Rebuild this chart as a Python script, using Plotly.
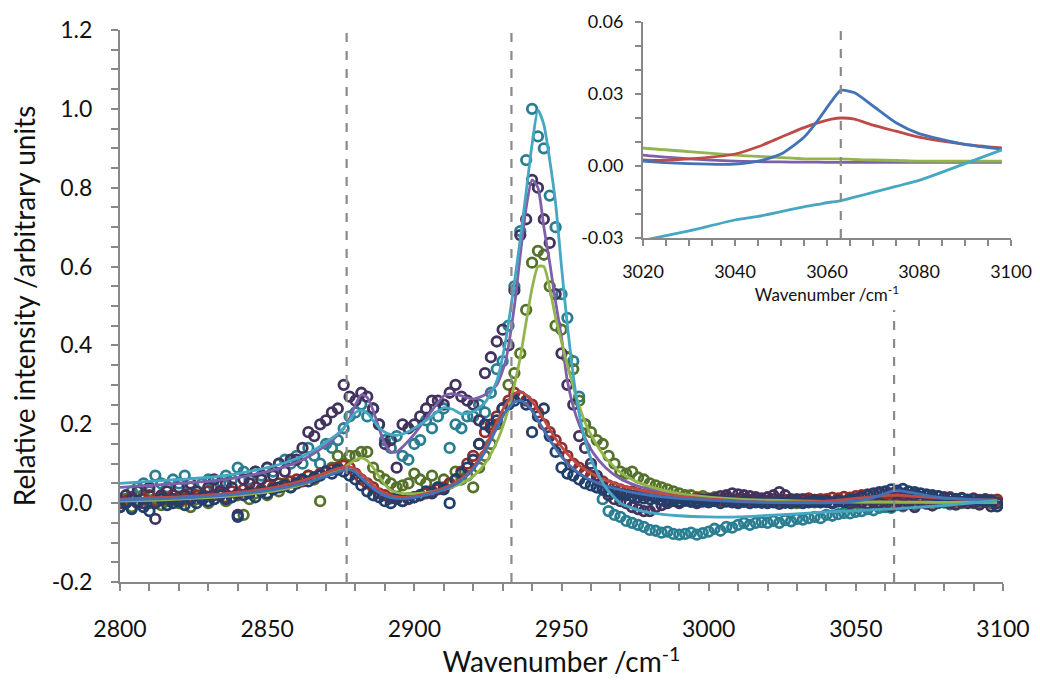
import plotly.graph_objects as go

# ---------------- data ----------------
WAVENUMBER = [
    2800, 2802, 2804, 2806, 2808, 2810, 2812, 2814, 2816, 2818,
    2820, 2822, 2824, 2826, 2828, 2830, 2832, 2834, 2836, 2838,
    2840, 2842, 2844, 2846, 2848, 2850, 2852, 2854, 2856, 2858,
    2860, 2862, 2864, 2866, 2868, 2870, 2872, 2874, 2876, 2878,
    2880, 2882, 2884, 2886, 2888, 2890, 2892, 2894, 2896, 2898,
    2900, 2902, 2904, 2906, 2908, 2910, 2912, 2914, 2916, 2918,
    2920, 2922, 2924, 2926, 2928, 2930, 2932, 2934, 2936, 2938,
    2940, 2942, 2944, 2946, 2948, 2950, 2952, 2954, 2956, 2958,
    2960, 2962, 2964, 2966, 2968, 2970, 2972, 2974, 2976, 2978,
    2980, 2982, 2984, 2986, 2988, 2990, 2992, 2994, 2996, 2998,
    3000, 3002, 3004, 3006, 3008, 3010, 3012, 3014, 3016, 3018,
    3020, 3022, 3024, 3026, 3028, 3030, 3032, 3034, 3036, 3038,
    3040, 3042, 3044, 3046, 3048, 3050, 3052, 3054, 3056, 3058,
    3060, 3062, 3064, 3066, 3068, 3070, 3072, 3074, 3076, 3078,
    3080, 3082, 3084, 3086, 3088, 3090, 3092, 3094, 3096, 3098,
]

teal_points = [
    0.00, 0.01, 0.03, 0.04, 0.05, 0.03, 0.07, 0.05, 0.04, 0.06,
    0.05, 0.07, 0.04, 0.03, 0.05, 0.06, 0.04, 0.05, 0.07, 0.06,
    0.09, 0.08, 0.06, 0.08, 0.07, 0.09, 0.08, 0.10, 0.11, 0.10,
    0.12, 0.10, 0.14, 0.12, 0.10, 0.15, 0.14, 0.16, 0.19, 0.22,
    0.23, 0.25, 0.22, 0.24, 0.20, 0.16, 0.14, 0.17, 0.12, 0.11,
    0.15, 0.16, 0.21, 0.19, 0.22, 0.24, 0.14, 0.20, 0.19, 0.22,
    0.22, 0.25, 0.23, 0.28, 0.34, 0.36, 0.45, 0.55, 0.69, 0.87,
    1.00, 0.93, 0.90, 0.78, 0.70, 0.53, 0.47, 0.36, 0.27, 0.20,
    0.09, 0.04, 0.01, -0.02, -0.03, -0.035, -0.045, -0.05, -0.055, -0.06,
    -0.068, -0.07, -0.075, -0.072, -0.078, -0.08, -0.078, -0.075, -0.08, -0.076,
    -0.072, -0.065, -0.07, -0.06, -0.062, -0.055, -0.05, -0.055, -0.05, -0.048,
    -0.05, -0.045, -0.05, -0.043, -0.046, -0.04, -0.042, -0.038, -0.035, -0.038,
    -0.03, -0.032, -0.028, -0.025, -0.026, -0.022, -0.02, -0.015, -0.018, -0.012,
    -0.01, -0.012, -0.005, -0.008, 0.0, -0.004, 0.002, -0.002, 0.004, 0.0,
    0.002, -0.003, 0.004, 0.0, 0.005, 0.002, 0.006, 0.004, 0.008, 0.005,
]

purple_points = [
    -0.01, 0.02, 0.01, 0.03, 0.00, 0.04, -0.04, 0.02, 0.03, 0.01,
    0.04, 0.02, 0.05, 0.03, 0.01, 0.04, 0.06, 0.03, 0.05, 0.04,
    -0.03, 0.06, 0.05, 0.08, 0.06, 0.09, 0.07, 0.10, 0.08, 0.11,
    0.11, 0.14, 0.18, 0.17, 0.20, 0.21, 0.23, 0.24, 0.30, 0.27,
    0.26, 0.28, 0.27, 0.24, 0.20, 0.15, 0.16, 0.09, 0.20, 0.19,
    0.20, 0.22, 0.24, 0.26, 0.26, 0.25, 0.28, 0.30, 0.27, 0.26,
    0.25, 0.21, 0.33, 0.37, 0.41, 0.44, 0.40, 0.54, 0.68, 0.72,
    0.82, 0.80, 0.72, 0.66, 0.53, 0.38, 0.30, 0.25, 0.17, 0.14,
    0.10, 0.07, 0.04, 0.02, 0.01, 0.005, 0.00, -0.01, -0.015, -0.02,
    -0.02, -0.01, -0.005, 0.00, 0.005, 0.00, 0.01, 0.005, 0.00, 0.008,
    0.01, 0.012, 0.018, 0.02, 0.025, 0.022, 0.02, 0.018, 0.015, 0.012,
    0.015, 0.02, 0.028, 0.02, 0.01, 0.008, 0.01, 0.005, 0.008, 0.005,
    0.005, 0.002, 0.006, 0.003, 0.00, 0.004, 0.002, -0.002, 0.003, 0.00,
    -0.005, -0.008, 0.002, -0.005, 0.00, -0.01, 0.005, 0.00, -0.006, 0.002,
    0.004, 0.00, -0.004, 0.003, 0.00, 0.002, -0.004, 0.003, -0.008, 0.00,
]

olive_points = [
    0.00, 0.01, -0.01, 0.00, 0.02, 0.00, 0.01, -0.005, 0.005, 0.01,
    0.00, 0.015, -0.01, 0.01, 0.02, 0.00, 0.01, 0.02, 0.005, 0.015,
    0.02, -0.03, 0.01, 0.025, 0.03, 0.02, 0.04, 0.03, 0.05, 0.04,
    0.05, 0.06, 0.07, 0.06, 0.005, 0.08, 0.09, 0.12, 0.10, 0.12,
    0.12, 0.13, 0.13, 0.09, 0.07, 0.06, 0.05, 0.04, 0.045, 0.05,
    0.075, 0.06, 0.05, 0.07, 0.04, 0.06, 0.05, 0.08, 0.06, 0.07,
    0.04, 0.09, 0.12, 0.15, 0.20, 0.24, 0.30, 0.33, 0.38, 0.49,
    0.61, 0.64, 0.63, 0.55, 0.45, 0.44, 0.37, 0.34, 0.26, 0.20,
    0.18, 0.16, 0.15, 0.12, 0.10, 0.08, 0.075, 0.08, 0.065, 0.06,
    0.05, 0.045, 0.04, 0.035, 0.03, 0.025, 0.02, 0.02, 0.015, 0.018,
    0.012, 0.015, 0.01, 0.012, 0.008, 0.01, 0.006, 0.008, 0.005, 0.007,
    0.005, 0.003, 0.006, 0.002, 0.004, 0.00, 0.003, 0.005, 0.002, 0.004,
    0.003, 0.00, 0.004, 0.002, 0.005, 0.001, 0.003, 0.00, 0.004, 0.002,
    0.003, 0.00, 0.004, 0.001, 0.003, 0.00, 0.002, 0.004, 0.001, 0.003,
    0.002, 0.00, 0.003, 0.001, 0.004, 0.00, 0.002, 0.003, 0.00, 0.002,
]

red_points = [
    0.00, 0.005, 0.015, 0.00, 0.01, 0.02, 0.005, 0.015, 0.01, 0.02,
    0.015, 0.01, 0.025, 0.02, 0.01, 0.03, 0.02, 0.025, 0.015, 0.03,
    0.025, 0.035, 0.03, 0.04, 0.035, 0.045, 0.04, 0.05, 0.045, 0.055,
    0.06, 0.055, 0.07, 0.065, 0.075, 0.08, 0.085, 0.09, 0.095, 0.09,
    0.075, 0.06, 0.05, 0.04, 0.025, 0.02, 0.012, 0.015, 0.005, 0.01,
    0.015, 0.02, 0.025, 0.03, 0.035, 0.04, 0.05, 0.06, 0.08, 0.10,
    0.12, 0.15, 0.18, 0.20, 0.22, 0.24, 0.26, 0.28, 0.27, 0.26,
    0.25, 0.23, 0.20, 0.18, 0.16, 0.14, 0.12, 0.10, 0.09, 0.08,
    0.07, 0.06, 0.055, 0.045, 0.04, 0.035, 0.03, 0.03, 0.025, 0.02,
    0.02, 0.015, 0.02, 0.01, 0.015, 0.012, 0.01, 0.008, 0.012, 0.01,
    0.008, 0.01, 0.006, 0.012, 0.008, 0.005, 0.01, 0.006, 0.008, 0.005,
    0.006, 0.01, 0.004, 0.008, 0.005, 0.01, 0.007, 0.012, 0.008, 0.01,
    0.01, 0.014, 0.012, 0.016, 0.014, 0.018, 0.02, 0.022, 0.02, 0.025,
    0.022, 0.025, 0.02, 0.024, 0.018, 0.022, 0.016, 0.02, 0.015, 0.018,
    0.012, 0.015, 0.01, 0.013, 0.009, 0.012, 0.008, 0.01, 0.007, 0.009,
]

navy_points = [
    -0.01, 0.00, -0.015, 0.005, -0.01, -0.02, 0.00, 0.01, -0.005, 0.00,
    0.005, -0.005, 0.01, 0.00, 0.015, 0.005, 0.01, 0.02, 0.01, 0.015,
    -0.035, 0.02, 0.025, 0.015, 0.03, 0.025, 0.035, 0.04, 0.045, 0.04,
    0.05, 0.06, 0.055, 0.065, 0.07, 0.08, 0.075, 0.085, 0.08, 0.07,
    0.06, 0.045, 0.03, 0.02, 0.015, 0.005, 0.00, 0.01, 0.005, 0.012,
    0.015, 0.02, 0.03, 0.025, 0.04, 0.035, 0.00, 0.06, 0.075, 0.09,
    0.11, 0.15, 0.20, 0.19, 0.21, 0.24, 0.25, 0.26, 0.27, 0.25,
    0.18, 0.22, 0.24, 0.17, 0.13, 0.09, 0.075, 0.07, 0.06, 0.05,
    0.045, 0.04, 0.035, 0.03, 0.028, 0.022, 0.02, 0.018, 0.015, 0.012,
    0.01, 0.012, 0.008, 0.005, 0.008, 0.004, 0.006, 0.003, 0.005, 0.004,
    0.002, 0.005, 0.00, 0.004, 0.002, 0.00, 0.003, 0.00, 0.002, 0.001,
    0.00, 0.002, -0.002, 0.001, 0.00, 0.003, 0.00, 0.002, 0.004, 0.002,
    0.003, 0.00, 0.005, 0.004, 0.008, 0.01, 0.015, 0.02, 0.025, 0.028,
    0.03, 0.035, 0.032, 0.036, 0.03, 0.028, 0.025, 0.022, 0.02, 0.018,
    0.015, 0.012, 0.01, 0.012, 0.008, 0.01, 0.007, 0.009, 0.006, -0.008,
]

FIT_WAVENUMBER = [
    2800, 2810, 2820, 2830, 2840, 2850, 2855, 2860, 2865, 2870,
    2873, 2876, 2878, 2880, 2882, 2884, 2886, 2888, 2890, 2892,
    2894, 2897, 2900, 2905, 2910, 2913, 2916, 2920, 2924, 2928,
    2931, 2934, 2936, 2938, 2940, 2942, 2944, 2946, 2948, 2950,
    2952, 2955, 2958, 2961, 2965, 2970, 2975, 2980, 2990, 3000,
    3010, 3020, 3030, 3040, 3045, 3050, 3055, 3058, 3061, 3063,
    3066, 3070, 3075, 3080, 3090, 3098,
]

red_fit = [
    0.010, 0.013, 0.016, 0.020, 0.027, 0.037, 0.044, 0.053, 0.064, 0.077,
    0.085, 0.091, 0.092, 0.086, 0.074, 0.060, 0.046, 0.034, 0.025, 0.019,
    0.016, 0.015, 0.018, 0.026, 0.038, 0.048, 0.062, 0.090, 0.140, 0.205,
    0.250, 0.278, 0.282, 0.274, 0.258, 0.236, 0.212, 0.188, 0.164, 0.143,
    0.125, 0.102, 0.085, 0.072, 0.058, 0.045, 0.036, 0.028, 0.018, 0.011,
    0.006, 0.0025, 0.003, 0.005, 0.008, 0.012, 0.016, 0.018, 0.0195, 0.020,
    0.0195, 0.017, 0.0145, 0.012, 0.009, 0.0075,
]

blue_fit = [
    0.008, 0.010, 0.013, 0.017, 0.023, 0.032, 0.038, 0.046, 0.056, 0.068,
    0.076, 0.083, 0.085, 0.078, 0.064, 0.050, 0.037, 0.027, 0.019, 0.014,
    0.012, 0.012, 0.014, 0.022, 0.034, 0.044, 0.058, 0.085, 0.130, 0.190,
    0.232, 0.256, 0.260, 0.252, 0.234, 0.210, 0.185, 0.160, 0.138, 0.118,
    0.101, 0.081, 0.066, 0.055, 0.044, 0.034, 0.026, 0.020, 0.012, 0.008,
    0.004, 0.002, 0.001, 0.0008, 0.002, 0.005, 0.012, 0.019, 0.027, 0.0315,
    0.0305, 0.025, 0.018, 0.0135, 0.009, 0.007,
]

green_fit = [
    0.005, 0.007, 0.010, 0.014, 0.020, 0.028, 0.034, 0.043, 0.055, 0.070,
    0.080, 0.090, 0.100, 0.110, 0.115, 0.108, 0.090, 0.068, 0.047, 0.033,
    0.027, 0.024, 0.024, 0.028, 0.035, 0.041, 0.050, 0.068, 0.100, 0.155,
    0.215, 0.300, 0.370, 0.460, 0.545, 0.600, 0.600, 0.545, 0.470, 0.410,
    0.350, 0.270, 0.205, 0.160, 0.115, 0.078, 0.056, 0.042, 0.024, 0.015,
    0.010, 0.0075, 0.006, 0.0045, 0.004, 0.0035, 0.003, 0.003, 0.003, 0.003,
    0.0027, 0.0025, 0.0023, 0.002, 0.002, 0.002,
]

purple_fit = [
    0.040, 0.045, 0.050, 0.055, 0.065, 0.080, 0.090, 0.103, 0.122, 0.147,
    0.165, 0.190, 0.215, 0.250, 0.275, 0.268, 0.235, 0.190, 0.150, 0.130,
    0.130, 0.150, 0.175, 0.225, 0.272, 0.278, 0.272, 0.264, 0.275, 0.300,
    0.360, 0.500, 0.630, 0.750, 0.820, 0.800, 0.700, 0.610, 0.510, 0.420,
    0.310, 0.220, 0.165, 0.125, 0.090, 0.062, 0.046, 0.035, 0.022, 0.014,
    0.008, 0.0045, 0.003, 0.002, 0.0018, 0.0017, 0.0016, 0.0016, 0.0015, 0.0015,
    0.0015, 0.0015, 0.0015, 0.0015, 0.0015, 0.0015,
]

aqua_fit = [
    0.050, 0.055, 0.060, 0.065, 0.075, 0.090, 0.100, 0.113, 0.130, 0.155,
    0.170, 0.190, 0.210, 0.230, 0.236, 0.228, 0.210, 0.192, 0.180, 0.174,
    0.172, 0.178, 0.190, 0.215, 0.242, 0.238, 0.226, 0.232, 0.255, 0.310,
    0.410, 0.560, 0.670, 0.790, 0.910, 0.997, 0.960, 0.870, 0.760, 0.600,
    0.450, 0.270, 0.160, 0.095, 0.040, 0.000, -0.015, -0.024, -0.032, -0.035,
    -0.035, -0.031, -0.027, -0.0225, -0.021, -0.019, -0.017, -0.016, -0.015, -0.0145,
    -0.013, -0.011, -0.0085, -0.006, 0.001, 0.0067,
]

MARKER_LINES = [2877, 2933, 3063]

MAIN_X_TICKS = [2800, 2850, 2900, 2950, 3000, 3050, 3100]
MAIN_X_LABELS = ["2800", "2850", "2900", "2950", "3000", "3050", "3100"]
MAIN_Y_TICKS = [-0.2, 0.0, 0.2, 0.4, 0.6, 0.8, 1.0, 1.2]
MAIN_Y_LABELS = ["-0.2", "0.0", "0.2", "0.4", "0.6", "0.8", "1.0", "1.2"]
INSET_X_TICKS = [3020, 3040, 3060, 3080, 3100]
INSET_X_LABELS = ["3020", "3040", "3060", "3080", "3100"]
INSET_Y_TICKS = [-0.03, 0.0, 0.03, 0.06]
INSET_Y_LABELS = ["-0.03", "0.00", "0.03", "0.06"]

# ---------------- figure ----------------
FONT = "Lato, 'Open Sans', sans-serif"
AXIS_GREY = "#888888"

point_series = [
    (teal_points, "#2A7E92"),
    (olive_points, "#55722B"),
    (red_points, "#8E2F2C"),
    (purple_points, "#42325E"),
    (navy_points, "#213F6C"),
]
fit_series = [
    (purple_fit, "#7D60A8"),
    (green_fit, "#93B54E"),
    (red_fit, "#BE4B48"),
    (blue_fit, "#4372B6"),
    (aqua_fit, "#46A7C2"),
]

fig = go.Figure()
for vals, col in point_series:
    fig.add_trace(go.Scatter(
        x=WAVENUMBER, y=vals, mode="markers",
        marker=dict(symbol="circle-open", size=9.5, color=col, line=dict(width=2.8, color=col)),
        xaxis="x", yaxis="y", showlegend=False, cliponaxis=True,
    ))
for vals, col in fit_series:
    fig.add_trace(go.Scatter(
        x=FIT_WAVENUMBER, y=vals, mode="lines",
        line=dict(color=col, width=2.8, shape="spline", smoothing=0.6),
        xaxis="x", yaxis="y", showlegend=False,
    ))
for vals, col in fit_series:
    fig.add_trace(go.Scatter(
        x=FIT_WAVENUMBER, y=vals, mode="lines",
        line=dict(color=col, width=2.8, shape="spline", smoothing=0.6),
        xaxis="x2", yaxis="y2", showlegend=False,
    ))

# dashed guide lines
dash_style = dict(color="#8A8A8A", width=2.2, dash="dash")
fig.add_shape(type="line", xref="x", yref="y", x0=MARKER_LINES[0], x1=MARKER_LINES[0],
              y0=-0.2, y1=1.2, line=dash_style, layer="above")
fig.add_shape(type="line", xref="x", yref="y", x0=MARKER_LINES[1], x1=MARKER_LINES[1],
              y0=-0.2, y1=1.2, line=dash_style, layer="above")
fig.add_shape(type="line", xref="x", yref="y", x0=MARKER_LINES[2], x1=MARKER_LINES[2],
              y0=-0.2, y1=0.49, line=dash_style, layer="above")
fig.add_shape(type="line", xref="x2", yref="y2", x0=MARKER_LINES[2], x1=MARKER_LINES[2],
              y0=-0.03, y1=0.057, line=dash_style, layer="above")

axis_common = dict(
    showgrid=False, zeroline=False, showline=True, linecolor=AXIS_GREY, linewidth=2,
    ticks="outside", tickcolor=AXIS_GREY, tickwidth=1.5, tickmode="array",
    automargin=False,
)

fig.update_layout(
    width=1040, height=680,
    margin=dict(l=120, r=25, t=20, b=98),
    paper_bgcolor="white", plot_bgcolor="white",
    font=dict(family=FONT, color="#111111"),
    showlegend=False,
    xaxis=dict(
        **axis_common, domain=[0, 0.98659], range=[2800, 3100], anchor="y",
        tickvals=MAIN_X_TICKS, ticktext=MAIN_X_LABELS, ticklen=7,
        tickfont=dict(size=23), ticklabelstandoff=18,
        minor=dict(dtick=10, tick0=2800, ticks="outside", ticklen=7, tickcolor=AXIS_GREY,
                   tickwidth=1.5, showgrid=False),
        title=dict(text="Wavenumber /cm<sup>-1</sup>", font=dict(size=28), standoff=4),
    ),
    yaxis=dict(
        **axis_common, domain=[0, 0.98221], range=[-0.2, 1.2], anchor="x",
        tickvals=MAIN_Y_TICKS, ticktext=MAIN_Y_LABELS, ticklen=7,
        tickfont=dict(size=23), ticklabelstandoff=14,
        minor=dict(dtick=0.05, tick0=0, ticks="outside", ticklen=7, tickcolor=AXIS_GREY,
                   tickwidth=1.5, showgrid=False),
        title=dict(text="Relative intensity /arbitrary units", font=dict(size=28), standoff=8),
    ),
    xaxis2=dict(
        **axis_common, domain=[0.58436, 0.99553], range=[3020, 3100], anchor="y2",
        tickvals=INSET_X_TICKS, ticktext=INSET_X_LABELS, ticklen=6,
        tickfont=dict(size=18), ticklabelstandoff=10,
        minor=dict(dtick=5, tick0=3020, ticks="outside", ticklen=6, tickcolor=AXIS_GREY,
                   tickwidth=1.5, showgrid=False),
        title=dict(text="Wavenumber /cm<sup>-1</sup>", font=dict(size=17), standoff=2),
    ),
    yaxis2=dict(
        **axis_common, domain=[0.6121, 0.99644], range=[-0.03, 0.06], anchor="x2",
        tickvals=INSET_Y_TICKS, ticktext=INSET_Y_LABELS, ticklen=6,
        tickfont=dict(size=18), ticklabelstandoff=8,
        minor=dict(dtick=0.01, tick0=0, ticks="outside", ticklen=6, tickcolor=AXIS_GREY,
                   tickwidth=1.5, showgrid=False),
    ),
)

fig.write_html(
    "out.html",
    config={"displayModeBar": False},
    post_script="document.body.style.margin='0';document.body.style.overflow='hidden';",
)
